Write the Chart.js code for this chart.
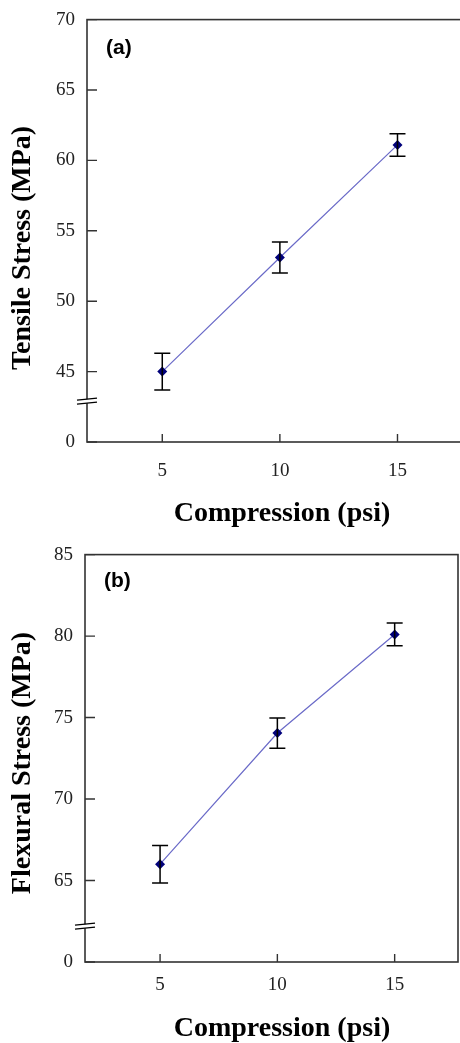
<!DOCTYPE html>
<html>
<head>
<meta charset="utf-8">
<script src="https://cdn.jsdelivr.net/npm/chart.js@4.4.0/dist/chart.umd.min.js"></script>
<style>
html, body { margin: 0; padding: 0; background: #fff; overflow: hidden; }
#wrapA { position: absolute; left: 0; top: 0; width: 466px; height: 535px; }
#wrapB { position: absolute; left: 0; top: 535px; width: 463px; height: 508px; }
</style>
</head>
<body>
<div id="wrapA"><canvas id="tensile"></canvas></div>
<div id="wrapB"><canvas id="flexural"></canvas></div>
<script>
// values
const compression = [5, 10, 15];
const xTicks = [5, 10, 15];

const tensileMean = [45.0, 53.1, 61.1];
const tensileErr = [1.3, 1.1, 0.8];
const tensileTicks = [40, 45, 50, 55, 60, 65, 70];   // 40 is shown as "0" (broken axis)

const flexuralMean = [66.0, 74.05, 80.1];
const flexuralErr = [1.15, 0.93, 0.7];
const flexuralTicks = [60, 65, 70, 75, 80, 85];      // 60 is shown as "0"

const serif = '"Liberation Serif", "Times New Roman", serif';

// frame, inward ticks, axis break, error bars, titles
const decorPlugin = {
    id: 'decor',
    afterDatasetsDraw(chart) {
        const ctx = chart.ctx;
        const xs = chart.scales.x, ys = chart.scales.y;

        // error bars
        ctx.save();
        ctx.strokeStyle = '#000';
        ctx.lineWidth = 1.5;
        chart.data.datasets.forEach(ds => {
            ds.data.forEach((p, i) => {
                const x = xs.getPixelForValue(p.x);
                const y1 = ys.getPixelForValue(p.y + ds.err[i]);
                const y2 = ys.getPixelForValue(p.y - ds.err[i]);
                ctx.beginPath();
                ctx.moveTo(x, y1); ctx.lineTo(x, y2);
                ctx.moveTo(x - 8, y1); ctx.lineTo(x + 8, y1);
                ctx.moveTo(x - 8, y2); ctx.lineTo(x + 8, y2);
                ctx.stroke();
            });
        });
        ctx.restore();
    },
    afterDraw(chart) {
        const ctx = chart.ctx;
        const a = chart.chartArea;
        const xs = chart.scales.x, ys = chart.scales.y;
        const cfg = chart.options.plugins.decor;

        ctx.save();
        ctx.strokeStyle = '#333';
        ctx.lineWidth = 1.6;
        ctx.strokeRect(a.left, a.top, a.right - a.left, a.bottom - a.top);

        ctx.lineWidth = 1.4;
        ctx.beginPath();
        ys.ticks.forEach(t => {
            const y = ys.getPixelForValue(t.value);
            ctx.moveTo(a.left, y); ctx.lineTo(a.left + 10, y);
        });
        xs.ticks.forEach(t => {
            const x = xs.getPixelForValue(t.value);
            ctx.moveTo(x, a.bottom); ctx.lineTo(x, a.bottom - 8);
        });
        ctx.stroke();

        // axis break
        const by = ys.getPixelForValue(cfg.breakAt);
        ctx.fillStyle = '#fff';
        ctx.beginPath();
        ctx.moveTo(a.left - 10, by - 1); ctx.lineTo(a.left + 10, by - 3);
        ctx.lineTo(a.left + 10, by + 1); ctx.lineTo(a.left - 10, by + 3);
        ctx.closePath();
        ctx.fill();
        ctx.strokeStyle = '#000';
        ctx.lineWidth = 1.3;
        ctx.beginPath();
        ctx.moveTo(a.left - 10, by - 1); ctx.lineTo(a.left + 10, by - 3);
        ctx.moveTo(a.left - 10, by + 3); ctx.lineTo(a.left + 10, by + 1);
        ctx.stroke();

        // titles
        ctx.fillStyle = '#000';
        ctx.textAlign = 'center';
        ctx.textBaseline = 'middle';
        ctx.font = 'bold 28px ' + serif;
        ctx.fillText('Compression (psi)', cfg.xTitle[0], cfg.xTitle[1]);
        ctx.save();
        ctx.translate(cfg.yTitle[0], cfg.yTitle[1]);
        ctx.rotate(-Math.PI / 2);
        ctx.fillText(cfg.yTitleText, 0, 0);
        ctx.restore();

        ctx.textAlign = 'left';
        ctx.font = 'bold 21px "Liberation Sans", Arial, sans-serif';
        ctx.fillText(cfg.panel, cfg.panelPos[0], cfg.panelPos[1]);
        ctx.restore();
    }
};

function makeChart(id, mean, err, yTicks, o) {
    return new Chart(document.getElementById(id), {
        type: 'line',
        data: {
            datasets: [{
                data: compression.map((x, i) => ({ x: x, y: mean[i] })),
                err: err,
                borderColor: '#6b6bc8',
                borderWidth: 1.2,
                pointStyle: 'rectRot',
                pointRadius: 5,
                pointBackgroundColor: '#00007a',
                pointBorderColor: '#00007a',
                pointBorderWidth: 0,
                tension: 0
            }]
        },
        options: {
            responsive: true,
            maintainAspectRatio: false,
            animation: false,
            layout: { padding: { top: o.top, left: 0, right: 0, bottom: 0 } },
            plugins: {
                legend: { display: false },
                tooltip: { enabled: false },
                decor: o.decor
            },
            scales: {
                x: {
                    type: 'linear',
                    min: 1.8,
                    max: 17.7,
                    afterBuildTicks: s => { s.ticks = xTicks.map(v => ({ value: v })); },
                    afterFit: s => { s.height = o.bottom; },
                    grid: { display: false, drawTicks: false },
                    border: { display: false },
                    ticks: {
                        font: { family: serif, size: 19 },
                        color: '#222',
                        padding: o.xPad,
                        maxRotation: 0,
                        autoSkip: false
                    }
                },
                y: {
                    type: 'linear',
                    min: yTicks[0],
                    max: yTicks[yTicks.length - 1],
                    afterBuildTicks: s => { s.ticks = yTicks.map(v => ({ value: v })); },
                    afterFit: s => { s.width = o.left; },
                    grid: { display: false, drawTicks: false },
                    border: { display: false },
                    ticks: {
                        font: { family: serif, size: 19, lineHeight: 0.8 },
                        color: '#222',
                        padding: 12,
                        autoSkip: false,
                        callback: v => v === yTicks[0] ? '0' : v
                    }
                }
            }
        },
        plugins: [decorPlugin]
    });
}

makeChart('tensile', tensileMean, tensileErr, tensileTicks, {
    top: 15, left: 87, bottom: 93, xPad: 18,
    decor: { breakAt: 42.9, xTitle: [282, 514], yTitle: [23, 248],
             yTitleText: 'Tensile Stress (MPa)', panel: '(a)', panelPos: [106, 48] }
});

makeChart('flexural', flexuralMean, flexuralErr, flexuralTicks, {
    top: 16, left: 85, bottom: 81, xPad: 12,
    decor: { breakAt: 62.2, xTitle: [282, 494], yTitle: [23, 228],
             yTitleText: 'Flexural Stress (MPa)', panel: '(b)', panelPos: [104, 46] }
});
</script>
</body>
</html>
